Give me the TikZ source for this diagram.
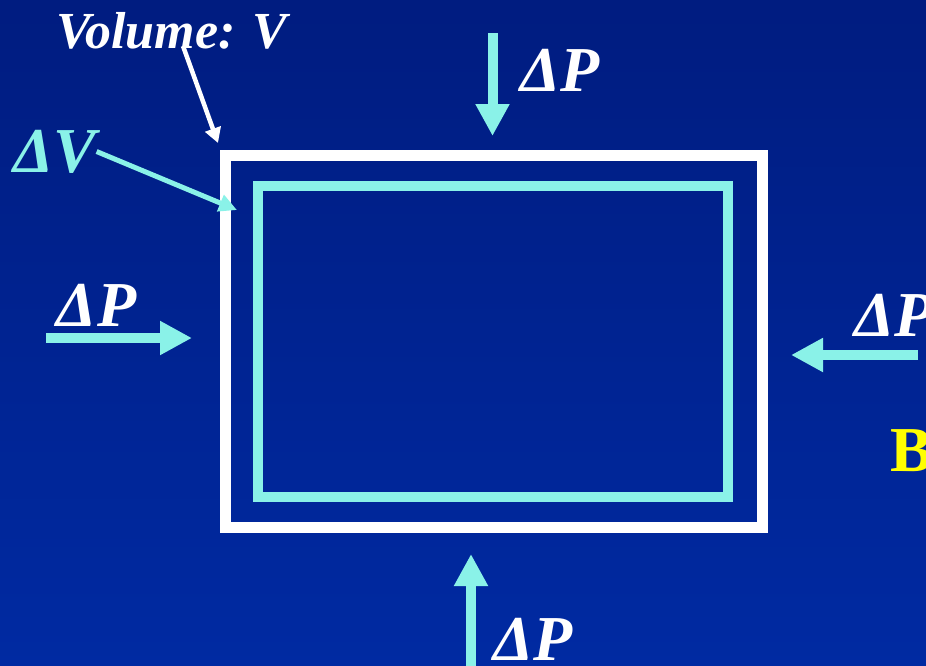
\documentclass[tikz,border=0pt]{standalone}
\usepackage{fontspec}
\setmainfont{Liberation Serif}
\usepackage{tikz}
\usepackage{xcolor}
\usetikzlibrary{arrows.meta,positioning}
\definecolor{slideTop}{RGB}{0,28,128}
\definecolor{slideBot}{RGB}{0,42,162}
\definecolor{pushCyan}{RGB}{138,242,232}
\definecolor{labelYellow}{RGB}{255,255,0}

\begin{document}
\begin{tikzpicture}[x=1pt,y=-1pt,
    deltaText/.style={inner sep=0pt,font=\fontsize{64}{64}\selectfont\bfseries\itshape},
    pushArrow/.style={draw=pushCyan,line width=10pt,-{Triangle[width=32pt,length=32pt]}},
    boxLine/.style={inner sep=0pt,outer sep=0pt}]
                    \clip (0,0) rectangle (926,665);
                    \shade[top color=slideTop,bottom color=slideBot] (0,0) rectangle (926,665);

                    % volume element and its change
                    \node[boxLine,draw=white,line width=11pt,minimum width=536.5pt,minimum height=372pt] (volBox) at (493.8,341.6) {};
                    \node[boxLine,draw=pushCyan,line width=10.5pt,minimum width=470pt,minimum height=311pt] (dVBox) at (493,341.5) {};

                    \node[inner sep=0pt,text=white,font=\fontsize{52}{52}\selectfont\bfseries\itshape] (volLabel) at (172,31) {Volume: V};
                    \coordinate (volStart) at (183,46);
                    \coordinate (volTip) at (218,143);
                    \draw[white,line width=4.5pt,-{Triangle[width=16pt,length=15pt]}] (volStart) -- (volTip);

                    \node[deltaText,text=pushCyan] (dVLabel) at (55,151.5) {ΔV};
                    \coordinate (dVTip) at (237,210);
                    \draw[pushCyan,line width=5pt,-{Triangle[width=17pt,length=18pt]}] (dVLabel.east) -- (dVTip);

                    % pressure from the four sides
                    \node[deltaText,text=white] (topP) at (560,70) {ΔP};
                    \coordinate (topTail) at (492.5,33);
                    \coordinate (topTip) at (492.5,136);
                    \draw[pushArrow] (topTail) -- (topTip);

                    \node[deltaText,text=white] (leftP) at (96.5,305) {ΔP};
                    \coordinate (leftTail) at (46,338);
                    \coordinate (leftTip) at (192,338);
                    \draw[pushArrow] (leftTail) -- (leftTip);

                    \node[deltaText,text=white,anchor=west] (rightP) at (854,315) {ΔP};
                    \coordinate (rightTail) at (918,355);
                    \coordinate (rightTip) at (791,355);
                    \draw[pushArrow] (rightTail) -- (rightTip);

                    \node[deltaText,text=white] (botP) at (533,639) {ΔP};
                    \coordinate (botTail) at (471,680);
                    \coordinate (botTip) at (471,554);
                    \draw[pushArrow] (botTail) -- (botTip);

                    \node[inner sep=0pt,anchor=west,text=labelYellow,font=\fontsize{64}{64}\selectfont\bfseries] (bLabel) at (890,451) {B};
                \end{tikzpicture}
\end{document}
